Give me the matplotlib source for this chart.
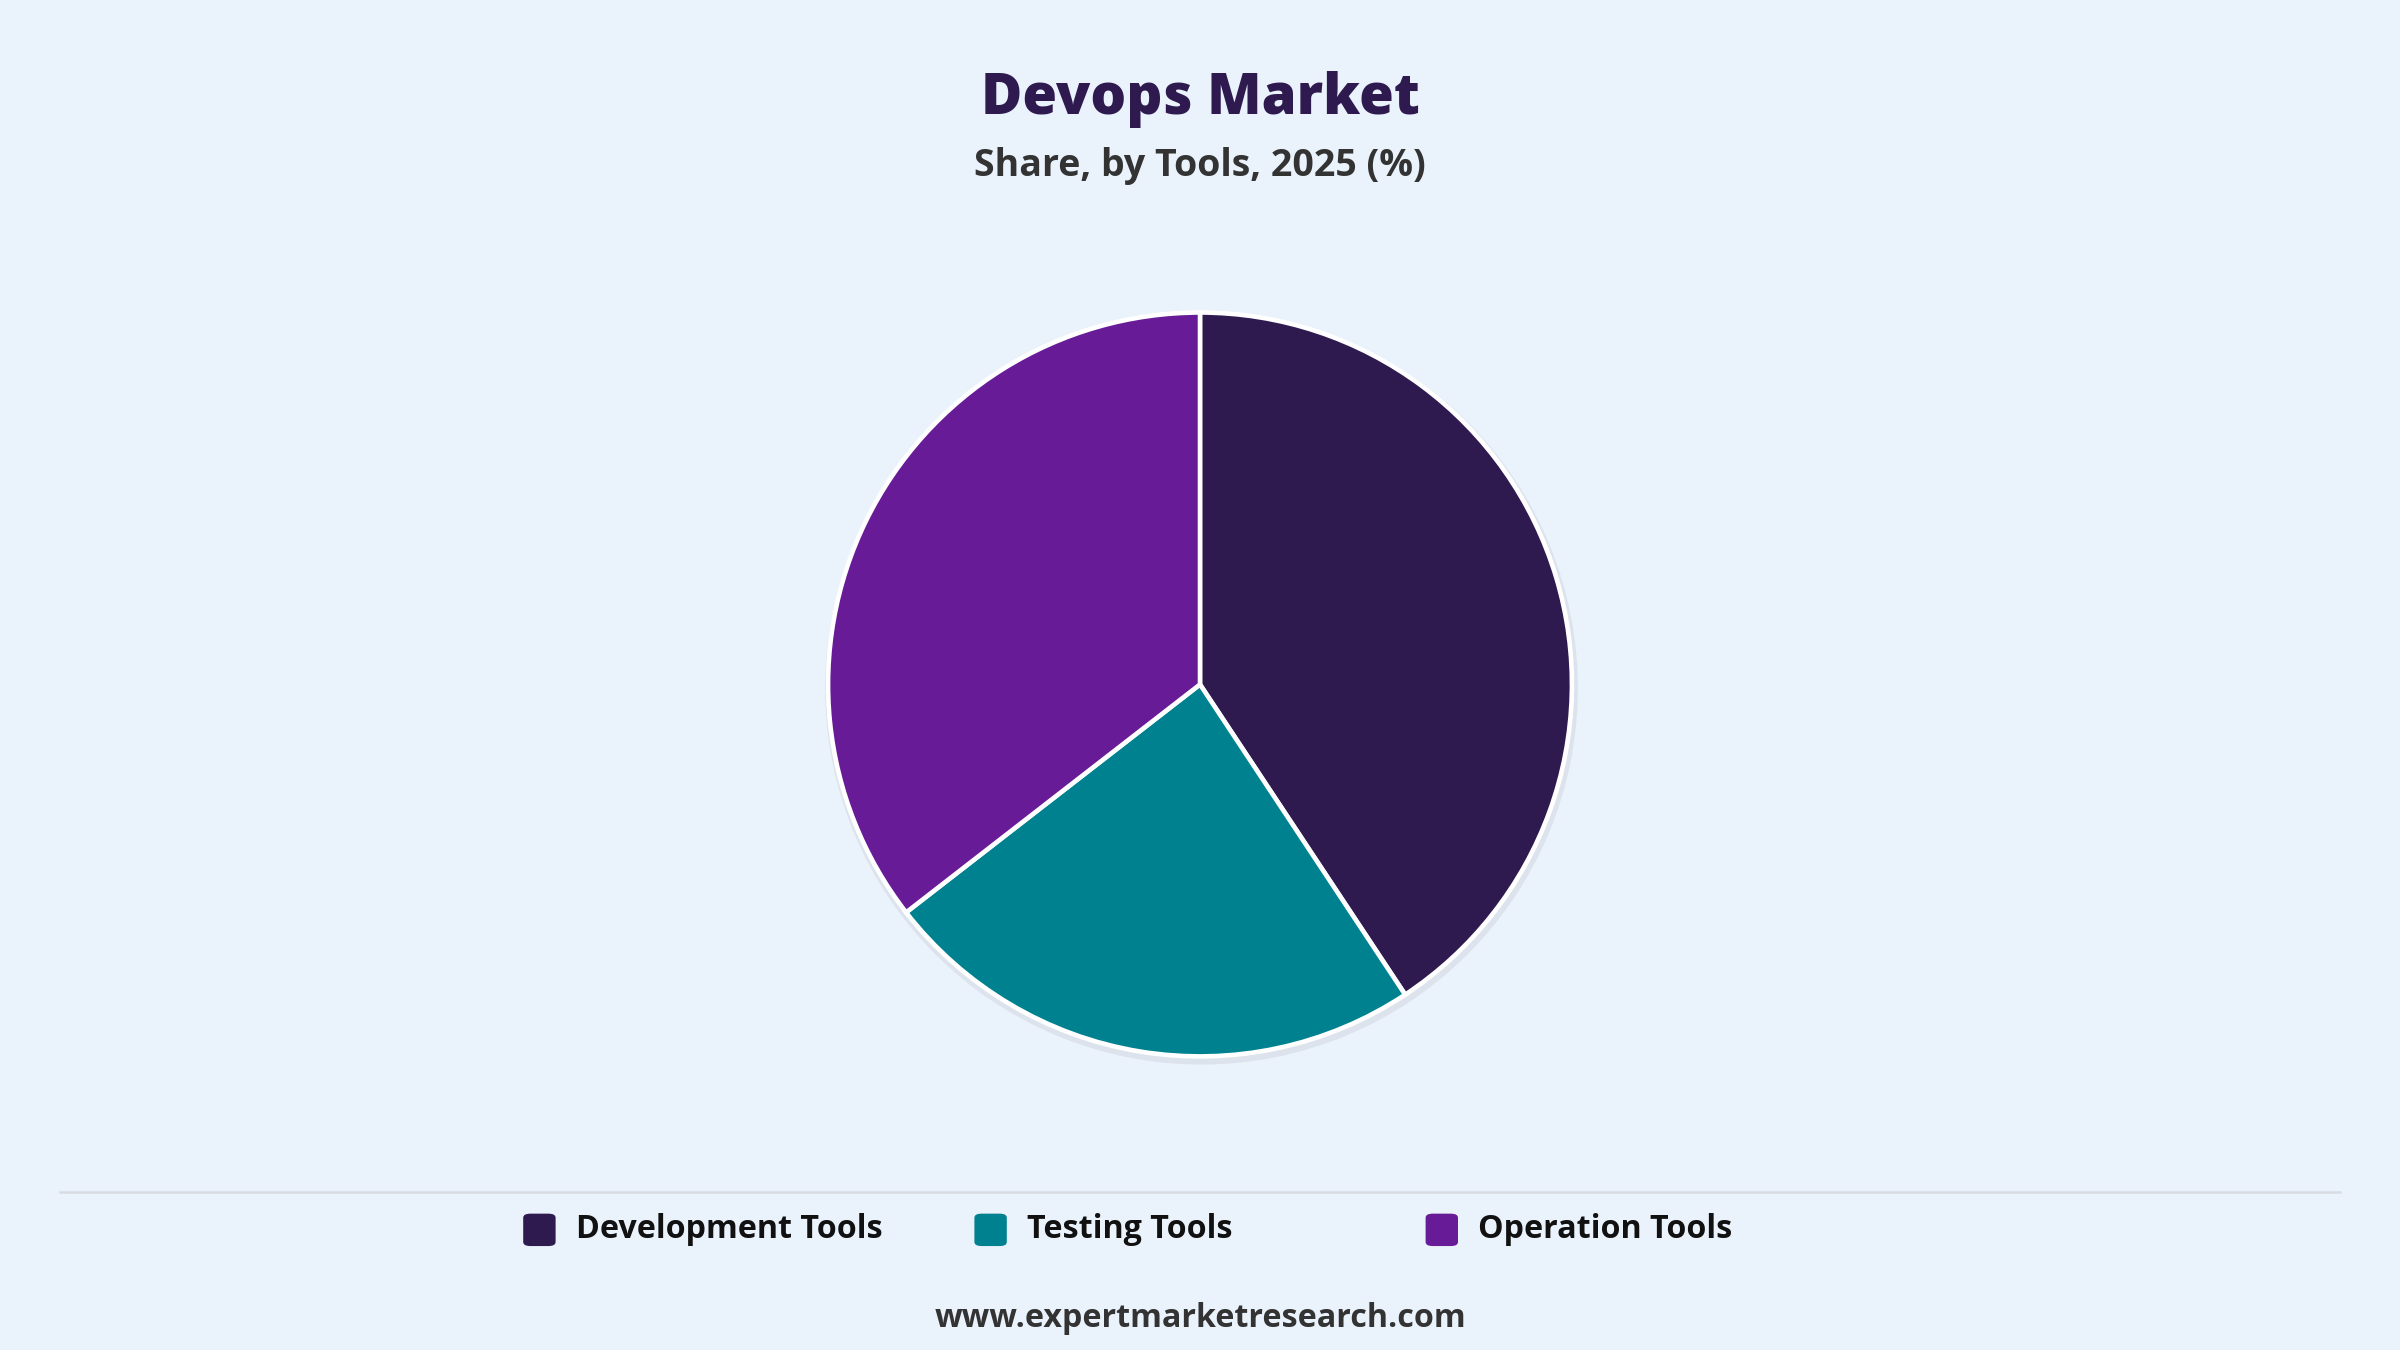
import matplotlib.pyplot as plt
from matplotlib.patches import FancyBboxPatch
from matplotlib.lines import Line2D

CATEGORIES = ["Development Tools", "Testing Tools", "Operation Tools"]
SHARES = [40.7, 23.8, 35.5]
COLORS = ["#2E1A4F", "#00818F", "#671B97"]
BG = "#EAF2FC"

plt.rcParams["font.family"] = ["Open Sans", "DejaVu Sans"]

fig = plt.figure(figsize=(16, 9), dpi=150, facecolor=BG)

# pie axes: center (0.5, 0.493), radius ~0.2755 of fig height
r = 0.2755 * 1.03
h = 2 * r
w = h * 9 / 16
ax = fig.add_axes([0.5 - w / 2, 0.493 - r, w, h])
ax.set_facecolor(BG)
# soft shadow
ax.pie([1], radius=1.012, colors=["#dde3ec"], center=(0.004, -0.01),
       wedgeprops=dict(linewidth=0))
ax.pie(SHARES, colors=COLORS, startangle=90, counterclock=False,
       wedgeprops=dict(edgecolor="white", linewidth=2.2))
ax.set_xlim(-1.03, 1.03); ax.set_ylim(-1.03, 1.03)
ax.set_aspect("equal")
ax.axis("off")

fig.text(0.5, 0.926, "Devops Market", ha="center", va="center",
         fontsize=27, fontweight="heavy", color="#2E1A4F")
fig.text(0.5, 0.877, "Share, by Tools, 2025 (%)", ha="center", va="center",
         fontsize=18, fontweight="bold", color="#333333")

fig.add_artist(Line2D([0.025, 0.975], [0.117, 0.117], color="#d8dce2", lw=1.2))

leg_x = [0.218, 0.406, 0.594]
for x, c, lab in zip(leg_x, COLORS, CATEGORIES):
    fig.add_artist(FancyBboxPatch((x, 0.077), 0.0135, 0.024,
                                  boxstyle="round,pad=0,rounding_size=0.003",
                                  facecolor=c, edgecolor="none",
                                  transform=fig.transFigure))
    fig.text(x + 0.022, 0.089, lab, ha="left", va="center", fontsize=15.5,
             fontweight="bold", color="#111111")

fig.text(0.5, 0.023, "www.expertmarketresearch.com", ha="center", va="center",
         fontsize=15.5, fontweight="bold", color="#333333")

fig.savefig("out.png", dpi=150, facecolor=BG)
